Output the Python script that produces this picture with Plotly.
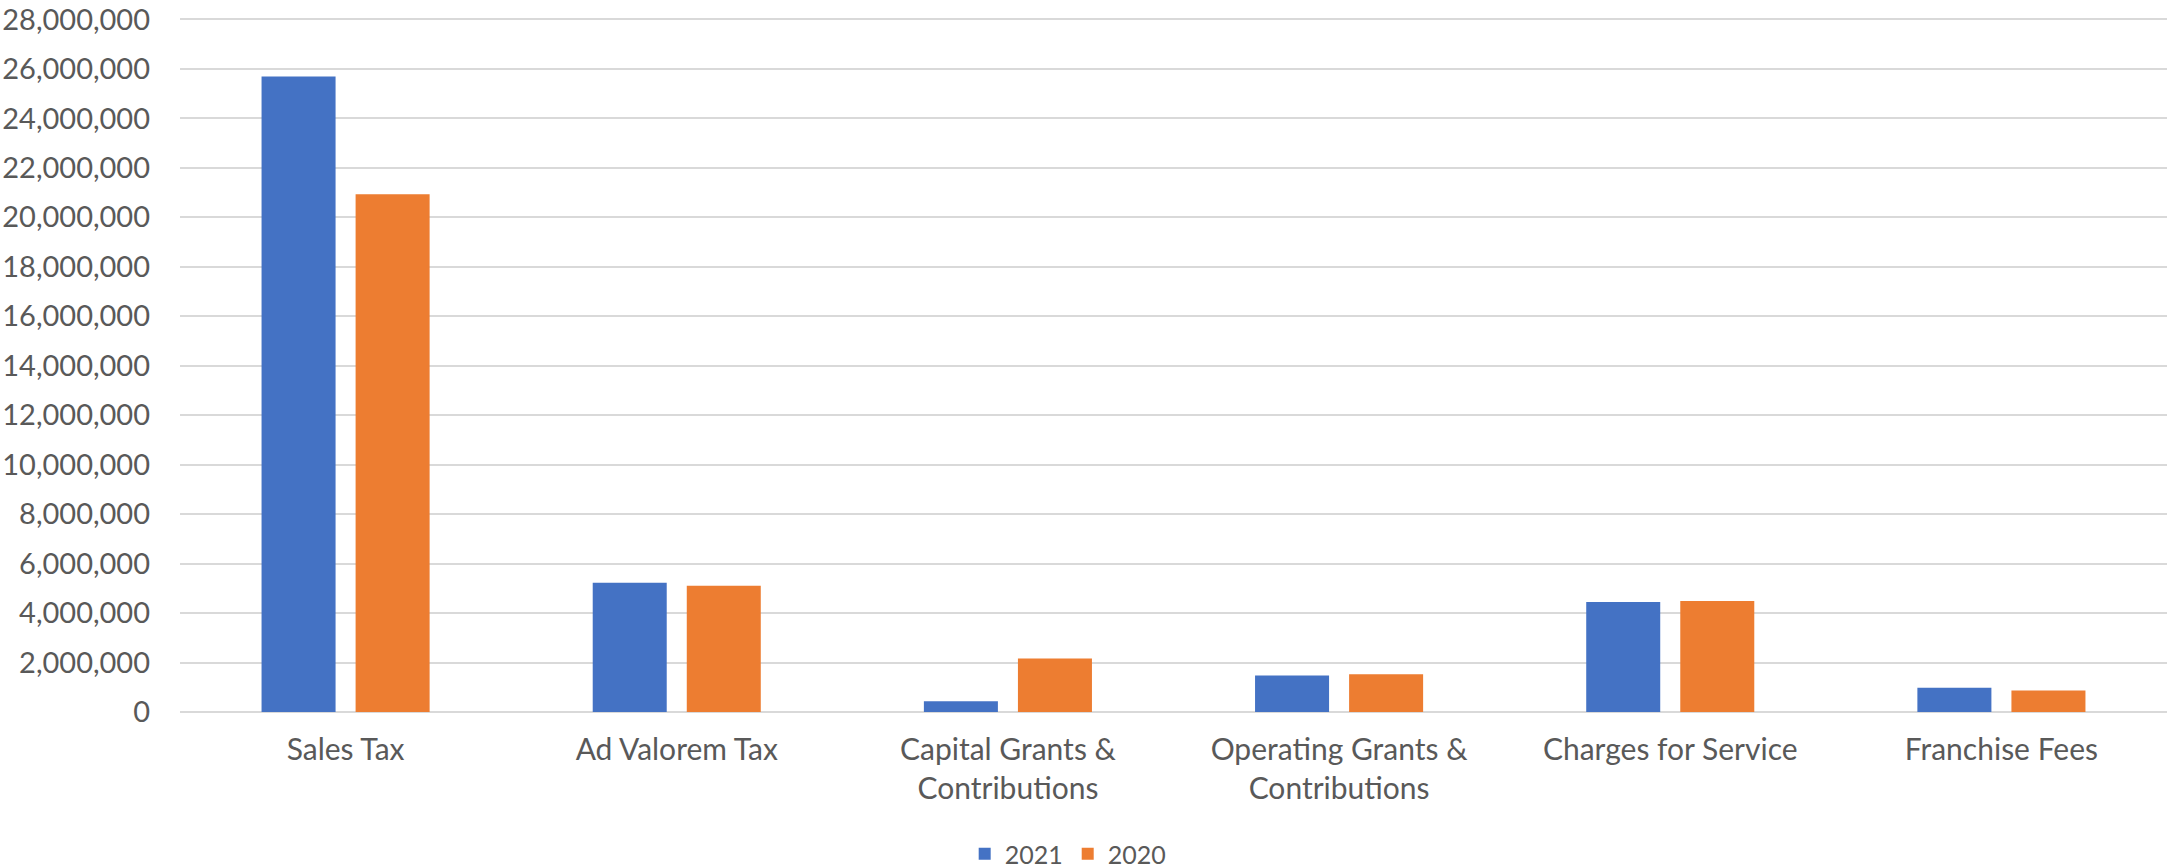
import plotly.graph_objects as go

# Revenue categories and yearly amounts
categories = [
    "Sales Tax",
    "Ad Valorem Tax",
    "Capital Grants &<br>Contributions",
    "Operating Grants &<br>Contributions",
    "Charges for Service",
    "Franchise Fees",
]
values_2021 = [25690000, 5230000, 430000, 1480000, 4450000, 980000]
values_2020 = [20930000, 5100000, 2160000, 1530000, 4490000, 870000]

y_ticks = list(range(0, 28000001, 2000000))
y_tick_text = [f"{v:,}" for v in y_ticks]

FONT = "Lato, 'Open Sans', sans-serif"
TEXT_COLOR = "#595959"
GRID_COLOR = "#D9D9D9"

fig = go.Figure()
fig.add_trace(go.Bar(name="2021", x=categories, y=values_2021,
                     marker=dict(color="#4472C4", line=dict(width=0))))
fig.add_trace(go.Bar(name="2020", x=categories, y=values_2020,
                     marker=dict(color="#ED7D31", line=dict(width=0))))

fig.update_layout(
    width=2168,
    height=868,
    barmode="group",
    bargap=0.432,
    bargroupgap=0.213,
    paper_bgcolor="white",
    plot_bgcolor="white",
    margin=dict(l=180, r=1, t=12, b=156, autoexpand=False),
    font=dict(family=FONT, size=30, color=TEXT_COLOR),
    showlegend=True,
    legend=dict(
        orientation="h",
        x=0.447,
        xanchor="center",
        y=-0.203,
        yanchor="middle",
        font=dict(family=FONT, size=25, color=TEXT_COLOR),
        traceorder="normal",
        itemwidth=30,
    ),
)

fig.update_xaxes(
    showgrid=False,
    showline=False,
    zeroline=False,
    ticks="",
    ticklabelstandoff=17,
    tickfont=dict(family=FONT, size=30, color=TEXT_COLOR),
)

fig.update_yaxes(
    range=[0, 28300000],
    tickmode="array",
    tickvals=y_ticks,
    ticktext=y_tick_text,
    showgrid=True,
    gridcolor=GRID_COLOR,
    gridwidth=1.5,
    zeroline=True,
    zerolinecolor=GRID_COLOR,
    zerolinewidth=1.5,
    showline=False,
    ticks="",
    ticklabelstandoff=29,
    ticklabeloverflow="allow",
    tickfont=dict(family=FONT, size=29, color=TEXT_COLOR),
)

fig.write_html("out.html")
